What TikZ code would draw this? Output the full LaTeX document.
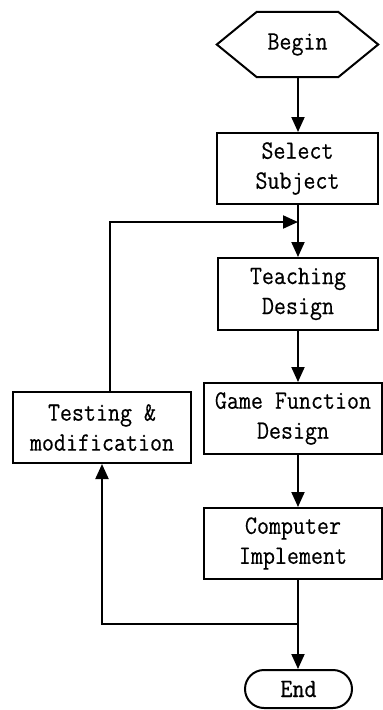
\documentclass[tikz,border=0pt]{standalone}
\usepackage{fontspec}
\setmonofont[FakeStretch=0.88,FakeBold=0.3]{Latin Modern Mono}
\usetikzlibrary{arrows.meta,calc}
\begin{document}
\begin{tikzpicture}[x=1pt,y=-1pt,
  lbl/.style={font=\ttfamily\fontsize{26.5}{30}\selectfont, align=center, inner sep=0pt},
  stepbox/.style={lbl, draw, line width=2pt, minimum height=71pt},
  conn/.style={line width=2pt},
  arr/.style={conn, -{Triangle[length=15pt,width=13pt]}}]
\useasboundingbox (0,0) rectangle (383,710);
\fill[white] (0,0) rectangle (383,710);
% Begin hexagon
\node[lbl, minimum width=161pt, minimum height=65pt] (begin) at (297.5,44.5) {Begin};
\draw[conn, line join=miter] (begin.west) -- ([xshift=40pt]begin.north west) -- ([xshift=-40pt]begin.north east) -- (begin.east) -- ([xshift=-40pt]begin.south east) -- ([xshift=40pt]begin.south west) -- cycle;
\node[stepbox, minimum width=161pt] (select) at (297.5,168.5) {Select\\Subject};
\node[stepbox, minimum width=160pt, minimum height=72pt] (teach) at (298,294) {Teaching\\Design};
\node[stepbox, minimum width=178pt] (game) at (293,418.5) {Game Function\\Design};
\node[stepbox, minimum width=178pt] (test) at (102,427.5) {Testing \&\\modification};
\node[stepbox, minimum width=178pt] (comp) at (293,543.5) {Computer\\Implement};
\node[lbl, draw, line width=2pt, minimum width=107pt, minimum height=38pt, rounded corners=19pt] (end) at (298.5,689) {End};
\coordinate (j1) at (298,222);
\coordinate (j2) at (298,624);
\coordinate (up) at (110,222);
\coordinate (dn) at (102,624);
% main flow
\draw[arr] (begin.south -| j1) -- (select.north -| j1);
\draw[conn] (select.south -| j1) -- (j1);
\draw[arr] (j1) -- (teach.north -| j1);
\draw[arr] (teach.south -| j1) -- (game.north -| j1);
\draw[arr] (game.south -| j1) -- (comp.north -| j1);
\draw[conn] (comp.south -| j1) -- (j2);
\draw[arr] (j2) -- (end.north -| j2);
% feedback loop
\draw[arr] (j2) -- (dn) -- (test.south -| dn);
\draw[arr] (test.north -| up) -- (up) -- (j1);
\end{tikzpicture}
\end{document}
